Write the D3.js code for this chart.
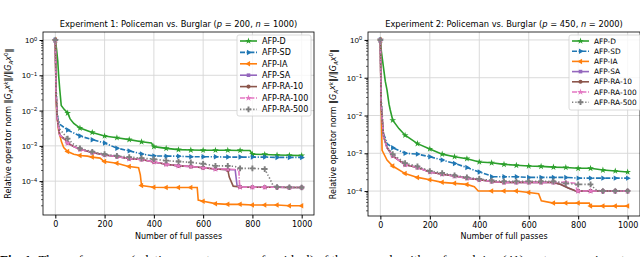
<!DOCTYPE html>
<html>
<head>
<meta charset="utf-8">
<script src="https://cdn.jsdelivr.net/npm/d3@7"></script>
<style>
  html, body { margin: 0; padding: 0; background: #fff; }
  svg { display: block; font-family: "DejaVu Sans", sans-serif; }
</style>
</head>
<body>
<div id="chartArea"></div>
<script>
// series names, colours, markers, line styles (matplotlib tab10 order)
const seriesNames = ["AFP-D", "AFP-SD", "AFP-IA", "AFP-SA", "AFP-RA-10", "AFP-RA-100", "AFP-RA-500"];
const xTicks = [0, 200, 400, 600, 800, 1000];
const yTicks = [1, 1e-1, 1e-2, 1e-3, 1e-4];
const yTickExp = ["0", "\u22121", "\u22122", "\u22123", "\u22124"];

// Experiment 1: [pass, relative residual]
const exp1_D = [[0,1],[5,0.55],[10,0.25],[13,0.11],[18,0.04],[24,0.014],[35,0.011],[50,0.0085],[60,0.0058],[75,0.0043],[100,0.0032],[150,0.0024],[200,0.0019],[250,0.0017],[300,0.0015],[350,0.0013],[390,0.0012],[400,0.00095],[450,0.00085],[500,0.00078],[550,0.00076],[600,0.00075],[650,0.00075],[700,0.00075],[750,0.00074],[790,0.00074],[800,0.00058],[850,0.00057],[900,0.00055],[950,0.00054],[1000,0.00053]];
const exp1_SD = [[0,1],[3,0.05],[6,0.01],[10,0.006],[20,0.004],[50,0.0028],[100,0.0019],[150,0.0015],[200,0.0012],[250,0.00086],[300,0.00072],[350,0.00059],[400,0.00052],[450,0.00051],[500,0.00051],[550,0.00049],[600,0.00049],[650,0.00049],[700,0.00048],[750,0.00048],[800,0.00048],[850,0.00048],[900,0.00047],[950,0.00047],[1000,0.00047]];
const exp1_IA = [[0,1],[3,0.03],[6,0.008],[13,0.0028],[25,0.0013],[34,0.0009],[50,0.00069],[75,0.00058],[100,0.00053],[130,0.00051],[150,0.00048],[182,0.00045],[196,0.00037],[200,0.00036],[250,0.00032],[297,0.00026],[300,0.00026],[338,0.00024],[345,0.00015],[350,0.000075],[400,0.000067],[450,0.000066],[500,0.000066],[550,0.000066],[576,0.000066],[580,0.000029],[600,0.000027],[650,0.000023],[700,0.000022],[750,0.000022],[800,0.000021],[850,0.000021],[900,0.000021],[950,0.00002],[1000,0.00002]];
const exp1_SA = [[0,1],[3,0.03],[8,0.006],[18,0.002],[40,0.0015],[50,0.0012],[75,0.00095],[100,0.0008],[150,0.00065],[200,0.00055],[250,0.0005],[300,0.00043],[350,0.00041],[400,0.00035],[450,0.0003],[500,0.00027],[550,0.00026],[600,0.00024],[650,0.00022],[700,0.00021],[730,0.00021],[738,0.000072],[750,0.000068],[800,0.000067],[850,0.000067],[900,0.000067],[950,0.000066],[1000,0.000066]];
const exp1_RA10 = [[0,1],[3,0.03],[8,0.006],[18,0.002],[40,0.0015],[50,0.0012],[75,0.00095],[100,0.0008],[150,0.00065],[200,0.00055],[250,0.0005],[300,0.00043],[350,0.00041],[400,0.00035],[450,0.0003],[500,0.00027],[550,0.00026],[600,0.00024],[650,0.00022],[700,0.00021],[706,0.00013],[722,0.000072],[750,0.000068],[800,0.000067],[850,0.000067],[900,0.000067],[950,0.000066],[1000,0.000066]];
const exp1_RA100 = [[0,1],[3,0.03],[8,0.006],[18,0.002],[40,0.0015],[50,0.0012],[75,0.00095],[100,0.0008],[150,0.00065],[200,0.00055],[250,0.0005],[300,0.00043],[350,0.00041],[400,0.00035],[450,0.0003],[500,0.00027],[550,0.00026],[600,0.00024],[650,0.00022],[700,0.00022],[745,0.00021],[748,0.00007],[750,0.000068],[800,0.000067],[850,0.000067],[900,0.000067],[950,0.000066],[1000,0.000066]];
const exp1_RA500 = [[0,1],[3,0.05],[8,0.008],[18,0.003],[50,0.0016],[75,0.0011],[100,0.00085],[150,0.00068],[200,0.00058],[250,0.00052],[300,0.00048],[350,0.00045],[400,0.00042],[450,0.00038],[500,0.00036],[550,0.00034],[600,0.00031],[650,0.00027],[700,0.00027],[730,0.00026],[750,0.00023],[800,0.00023],[850,0.00022],[870,0.00012],[885,0.000072],[900,0.000068],[950,0.000067],[1000,0.000066]];

// Experiment 2
const exp2_D = [[0,1],[4,0.5],[10,0.25],[20,0.08],[27,0.047],[35,0.02],[40,0.014],[50,0.0075],[75,0.0045],[100,0.003],[150,0.0018],[200,0.0013],[250,0.00095],[300,0.00081],[350,0.00072],[400,0.00059],[450,0.00056],[500,0.00051],[550,0.00048],[600,0.00046],[650,0.00045],[700,0.00043],[750,0.00042],[800,0.0004],[850,0.0004],[900,0.00036],[950,0.00034],[1000,0.00032]];
const exp2_SD = [[0,1],[3,0.03],[8,0.004],[20,0.0025],[27,0.0018],[50,0.0014],[100,0.001],[150,0.00095],[200,0.00081],[250,0.00066],[300,0.00054],[350,0.00042],[400,0.00032],[443,0.00026],[450,0.00024],[500,0.00024],[550,0.00024],[600,0.00023],[650,0.00023],[700,0.00023],[750,0.00023],[800,0.00022],[850,0.00022],[900,0.00022],[950,0.00022],[1000,0.00022]];
const exp2_IA = [[0,1],[3,0.02],[7,0.0012],[27,0.00066],[50,0.00046],[100,0.00029],[150,0.00023],[200,0.0002],[250,0.00017],[300,0.00016],[350,0.00015],[380,0.00013],[396,0.0001],[450,0.0001],[500,0.0001],[550,0.0001],[600,0.000092],[640,0.000085],[651,0.000055],[700,0.000048],[750,0.000048],[800,0.000048],[845,0.000048],[850,0.00004],[900,0.00004],[950,0.00004],[1000,0.00004]];
const exp2_SA = [[0,1],[3,0.02],[13,0.0028],[27,0.0014],[50,0.00085],[100,0.0005],[150,0.00042],[200,0.00032],[250,0.00028],[300,0.00025],[350,0.00022],[400,0.0002],[450,0.00018],[500,0.00017],[550,0.00017],[600,0.00017],[650,0.00017],[700,0.00017],[730,0.00015],[760,0.00012],[790,0.0001],[800,0.0001],[850,0.0001],[900,0.0001],[950,0.0001],[1000,0.0001]];
const exp2_RA10 = [[0,1],[3,0.02],[13,0.0028],[27,0.0014],[50,0.00085],[100,0.0005],[150,0.00042],[200,0.00032],[250,0.00028],[300,0.00025],[350,0.00022],[400,0.0002],[450,0.00018],[500,0.00017],[550,0.00017],[600,0.00017],[650,0.00017],[700,0.00017],[730,0.00015],[760,0.00012],[790,0.0001],[800,0.0001],[850,0.0001],[900,0.0001],[950,0.0001],[1000,0.0001]];
const exp2_RA100 = [[0,1],[3,0.02],[13,0.0028],[27,0.0014],[50,0.00085],[100,0.0005],[150,0.00042],[200,0.00032],[250,0.00028],[300,0.00025],[350,0.00022],[400,0.0002],[450,0.00018],[500,0.00017],[550,0.00017],[600,0.00017],[650,0.00017],[700,0.00017],[750,0.00017],[790,0.00016],[795,0.0001],[800,0.0001],[850,0.0001],[900,0.0001],[950,0.0001],[1000,0.0001]];
const exp2_RA500 = [[0,1],[3,0.03],[13,0.003],[27,0.0015],[50,0.00095],[100,0.00055],[150,0.00045],[200,0.00034],[250,0.0003],[300,0.00026],[350,0.00023],[400,0.00021],[450,0.00019],[500,0.00018],[550,0.00018],[600,0.00018],[650,0.00018],[700,0.00018],[750,0.00016],[800,0.00015],[850,0.00015],[870,0.00011],[890,0.0001],[900,0.0001],[950,0.0001],[1000,0.0001]];

const colors = ["#2ca02c", "#1f77b4", "#ff7f0e", "#9467bd", "#8c564b", "#e377c2", "#7f7f7f"];
const dashes = [null, "5,1.6,1.2,1.6", null, null, null, "5,1.6,1.2,1.6", "1.3,2"];
const symbols = [d3.symbolStar, d3.symbolTriangle, d3.symbolTriangle, d3.symbolSquare, d3.symbolCircle, d3.symbolStar, d3.symbolCross];
const symRot = [0, 90, -90, 0, 0, 0, 0];
const symSize = [14, 13, 13, 13, 13, 14, 18];

const width = 640, height = 257;
const svg = d3.select("#chartArea").append("svg").attr("width", width).attr("height", height);

const panels = [
  { title: ["Experiment 1: Policeman vs. Burglar (", "p", " = 200, ", "n", " = 1000)"],
    data: [exp1_D, exp1_SD, exp1_IA, exp1_SA, exp1_RA10, exp1_RA100, exp1_RA500],
    left: 43, right: 314, top: 32, bottom: 215, yMin: Math.pow(10, -4.96), yMax: Math.pow(10, 0.227),
    yLabelX: 11, legend: { x: 237, y: 35, w: 74, h: 81, row: 11.4, font: 8 } },
  { title: ["Experiment 2: Policeman vs. Burglar (", "p", " = 450, ", "n", " = 2000)"],
    data: [exp2_D, exp2_SD, exp2_IA, exp2_SA, exp2_RA10, exp2_RA100, exp2_RA500],
    left: 368, right: 640, top: 32, bottom: 216, yMin: Math.pow(10, -4.66), yMax: Math.pow(10, 0.21),
    yLabelX: 336, legend: { x: 569, y: 35, w: 74, h: 75, row: 10.2, font: 7.4 } }
];

panels.forEach((p) => {
  const g = svg.append("g");
  const x = d3.scaleLinear().domain([-50, 1050]).range([p.left, p.right]);
  const y = d3.scaleLog().domain([p.yMin, p.yMax]).range([p.bottom, p.top]);

  // grid
  g.append("g").selectAll("line").data(xTicks).join("line")
    .attr("x1", (d) => x(d)).attr("x2", (d) => x(d))
    .attr("y1", p.top).attr("y2", p.bottom)
    .attr("stroke", "#d6d6d6").attr("stroke-width", 0.9);
  g.append("g").selectAll("line").data(yTicks).join("line")
    .attr("x1", p.left).attr("x2", p.right)
    .attr("y1", (d) => y(d)).attr("y2", (d) => y(d))
    .attr("stroke", "#d6d6d6").attr("stroke-width", 0.9);

  // curves
  const clipId = "clip" + p.left;
  svg.append("clipPath").attr("id", clipId).append("rect")
    .attr("x", p.left).attr("y", p.top).attr("width", p.right - p.left).attr("height", p.bottom - p.top);
  const line = d3.line().x((d) => x(d[0])).y((d) => y(d[1]));
  const plot = g.append("g").attr("clip-path", `url(#${clipId})`);
  p.data.forEach((s, i) => {
    plot.append("path").datum(s)
      .attr("d", line)
      .attr("fill", "none")
      .attr("stroke", colors[i])
      .attr("stroke-width", 1.6)
      .attr("stroke-dasharray", dashes[i]);
    plot.selectAll(null).data(s.filter((d) => d[0] % 50 === 0)).join("path")
      .attr("d", d3.symbol(symbols[i], symSize[i]))
      .attr("transform", (d) => `translate(${x(d[0])},${y(d[1])}) rotate(${symRot[i]})`)
      .attr("fill", colors[i]);
  });

  // axes
  const xAxis = g.append("g").attr("transform", `translate(0,${p.bottom})`)
    .call(d3.axisBottom(x).tickValues(xTicks).tickFormat(d3.format("d")).tickSize(3.5).tickPadding(2.5));
  xAxis.select(".domain").remove();
  xAxis.selectAll("text").attr("font-size", 8).attr("fill", "#000").attr("font-family", "DejaVu Sans");

  const minor = [];
  for (let e = -5; e <= 0; e++) for (let k = 2; k <= 9; k++) {
    const v = k * Math.pow(10, e);
    if (v >= p.yMin && v <= p.yMax) minor.push(v);
  }
  g.append("g").selectAll("line").data(minor).join("line")
    .attr("x1", p.left - 2).attr("x2", p.left)
    .attr("y1", (d) => y(d)).attr("y2", (d) => y(d))
    .attr("stroke", "#000").attr("stroke-width", 0.6);
  const yAxis = g.append("g").attr("transform", `translate(${p.left},0)`)
    .call(d3.axisLeft(y).tickValues(yTicks).tickSize(3.5).tickPadding(2.5).tickFormat(""));
  yAxis.select(".domain").remove();
  yAxis.selectAll(".tick").each(function (d, i) {
    const t = d3.select(this).append("text")
      .attr("x", -6).attr("dy", "0.32em").attr("text-anchor", "end")
      .attr("font-size", 8).attr("fill", "#000");
    t.append("tspan").text("10");
    t.append("tspan").attr("dy", "-0.45em").attr("font-size", 5.6).text(yTickExp[i]);
  });

  // frame
  g.append("rect").attr("x", p.left).attr("y", p.top)
    .attr("width", p.right - p.left).attr("height", p.bottom - p.top)
    .attr("fill", "none").attr("stroke", "#000").attr("stroke-width", 0.8);

  // title
  const cx = (x(0) + x(1000)) / 2;
  const title = g.append("text").attr("x", cx).attr("y", 27).attr("text-anchor", "middle").attr("font-size", 8.3);
  p.title.forEach((s, i) => title.append("tspan").attr("font-style", i % 2 ? "italic" : null).text(s));

  // x label
  g.append("text").attr("x", cx).attr("y", 239).attr("text-anchor", "middle").attr("font-size", 8).text("Number of full passes");

  // y label
  const yl = g.append("text").attr("transform", `translate(${p.yLabelX},${(p.top + p.bottom) / 2}) rotate(-90)`)
    .attr("text-anchor", "middle").attr("font-size", 8);
  yl.append("tspan").text("Relative operator norm \u2016");
  yl.append("tspan").attr("font-style", "italic").text("G");
  yl.append("tspan").attr("font-size", 5.6).attr("dy", "0.3em").attr("font-style", "italic").text("A");
  yl.append("tspan").attr("font-style", "italic").attr("dy", "-0.3em").text("x");
  yl.append("tspan").attr("font-size", 5.6).attr("dy", "-0.45em").attr("font-style", "italic").text("k");
  yl.append("tspan").attr("dy", "0.45em").text("\u2016/\u2016");
  yl.append("tspan").attr("font-style", "italic").text("G");
  yl.append("tspan").attr("font-size", 5.6).attr("dy", "0.3em").attr("font-style", "italic").text("A");
  yl.append("tspan").attr("font-style", "italic").attr("dy", "-0.3em").text("x");
  yl.append("tspan").attr("font-size", 5.6).attr("dy", "-0.45em").text("0");
  yl.append("tspan").attr("dy", "0.45em").text("\u2016");

  // legend
  const L = p.legend;
  const lg = g.append("g");
  lg.append("rect").attr("x", L.x).attr("y", L.y).attr("width", L.w).attr("height", L.h)
    .attr("rx", 2).attr("fill", "#fff").attr("fill-opacity", 0.8)
    .attr("stroke", "#d0d0d0").attr("stroke-width", 0.8);
  seriesNames.forEach((name, i) => {
    const ry = L.y + 6 + i * L.row;
    lg.append("line").attr("x1", L.x + 3).attr("x2", L.x + 20).attr("y1", ry).attr("y2", ry)
      .attr("stroke", colors[i]).attr("stroke-width", 1.6).attr("stroke-dasharray", dashes[i]);
    lg.append("path").attr("d", d3.symbol(symbols[i], symSize[i]))
      .attr("transform", `translate(${L.x + 11.5},${ry}) rotate(${symRot[i]})`).attr("fill", colors[i]);
    lg.append("text").attr("x", L.x + 25).attr("y", ry).attr("dy", "0.35em")
      .attr("font-size", L.font).text(name);
  });
});

// caption beneath the figure, cut off by the frame as in the source page
svg.append("text").attr("x", 0).attr("y", 264)
  .attr("font-family", "Liberation Serif, serif").attr("font-size", 13)
  .html("<tspan font-weight='bold'>Fig. 1:</tspan> The performance (relative operator norm of residual) of the seven algorithms for solving (41) on two experiments.");
</script>
</body>
</html>
